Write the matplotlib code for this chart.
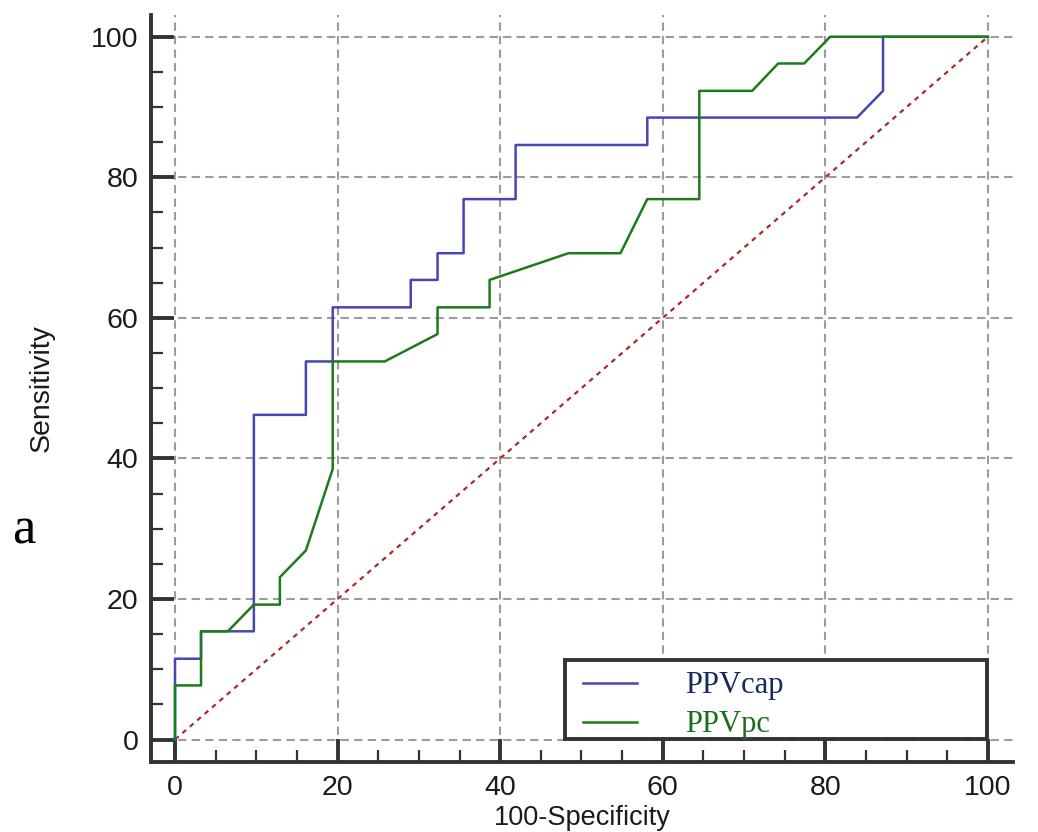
import matplotlib.pyplot as plt
from matplotlib.patches import Rectangle
from matplotlib.ticker import MultipleLocator

# ROC curves (x = 100-Specificity, y = Sensitivity)
cap_x = [0, 0, 3.2, 3.2, 9.7, 9.7, 16.1, 16.1, 19.4, 19.4, 29.0, 29.0, 32.3, 32.3,
         35.5, 35.5, 41.9, 41.9, 58.1, 58.1, 83.9, 87.1, 87.1, 100]
cap_y = [0, 11.5, 11.5, 15.4, 15.4, 46.2, 46.2, 53.8, 53.8, 61.5, 61.5, 65.4, 65.4, 69.2,
         69.2, 76.9, 76.9, 84.6, 84.6, 88.5, 88.5, 92.3, 100, 100]

pc_x = [0, 0, 3.2, 3.2, 6.5, 9.7, 12.9, 12.9, 16.1, 19.4, 19.4, 25.8, 32.3, 32.3,
        38.7, 38.7, 48.4, 54.8, 58.1, 64.5, 64.5, 71.0, 74.2, 77.4, 80.6, 100]
pc_y = [0, 7.7, 7.7, 15.4, 15.4, 19.2, 19.2, 23.1, 26.9, 38.5, 53.8, 53.8, 57.7, 61.5,
        61.5, 65.4, 69.2, 69.2, 76.9, 76.9, 92.3, 92.3, 96.2, 96.2, 100, 100]

ref_line = [0, 100]
labels = ['PPVcap', 'PPVpc']

if __name__ == '__main__':
    fig = plt.figure(figsize=(10.38, 8.32), dpi=100)
    ax = fig.add_axes([0.1455, 0.0841, 0.8305, 0.8979])

    ax.grid(True, which='major', color='#9c9c9c', linestyle=(0, (4, 2.5)), linewidth=1.5, zorder=0)
    ax.plot(ref_line, ref_line, color='#a52c2c', linestyle=(0, (2.2, 2.2)), linewidth=1.6, zorder=2)
    l1, = ax.plot(cap_x, cap_y, color='#4646b4', linewidth=1.8, zorder=3)
    l2, = ax.plot(pc_x, pc_y, color='#1c7c1c', linewidth=1.8, zorder=4)

    ax.set_xlim(-2.95, 103.1)
    ax.set_ylim(-3.2, 103.1)
    ax.xaxis.set_major_locator(MultipleLocator(20))
    ax.yaxis.set_major_locator(MultipleLocator(20))
    ax.xaxis.set_minor_locator(MultipleLocator(5))
    ax.yaxis.set_minor_locator(MultipleLocator(5))

    for s in ['top', 'right']:
        ax.spines[s].set_visible(False)
    for s in ['left', 'bottom']:
        ax.spines[s].set_color('#333333')
        ax.spines[s].set_linewidth(2.8)

    ax.tick_params(which='major', direction='in', length=16.5, width=2.8, color='#333333',
                   labelsize=20.5, labelcolor='#1a1a1a', pad=9)
    ax.tick_params(which='minor', direction='in', length=8.5, width=1.6, color='#333333')
    for t in ax.get_xticklabels() + ax.get_yticklabels():
        t.set_family('Liberation Sans')

    ax.set_ylabel('Sensitivity', fontsize=20.5, family='Liberation Sans', color='#1a1a1a', labelpad=26)
    ax.set_xlabel('100-Specificity', fontsize=19.5, family='Liberation Sans', color='#1a1a1a', labelpad=3)

    # legend box drawn separately so the entries can sit further in
    box = Rectangle((0.480, 0.031), 0.49, 0.105, transform=ax.transAxes, facecolor='white',
                    edgecolor='#333333', linewidth=2.8, zorder=5, clip_on=False)
    ax.add_patch(box)
    leg = ax.legend([l1, l2], labels, loc='center left', bbox_to_anchor=(0.501, 0.076),
                    frameon=False, prop={'family': 'Liberation Serif', 'size': 22},
                    handlelength=1.77, handletextpad=1.57, borderpad=0, labelspacing=0.33,
                    borderaxespad=0)
    leg.set_zorder(6)
    leg.get_texts()[0].set_color('#15295e')
    leg.get_texts()[1].set_color('#1a6e1a')

    fig.text(0.023, 0.362, 'a', fontsize=38, family='Liberation Serif', ha='center', va='center')

    fig.savefig('out.png', dpi=100)
